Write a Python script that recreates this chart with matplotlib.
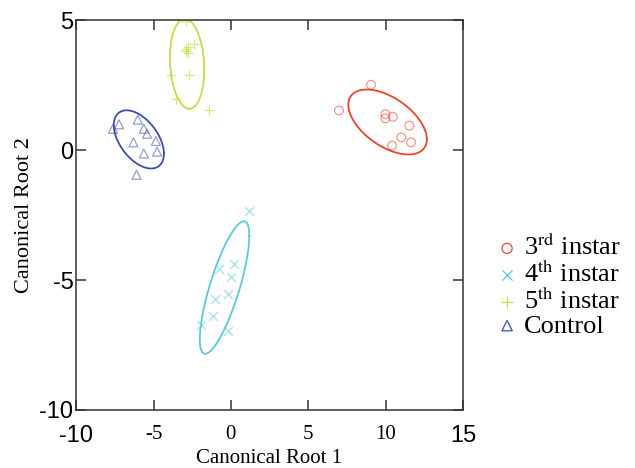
import numpy as np
from matplotlib import pyplot as plt

plt.rcParams['mathtext.fontset'] = 'stix'

# canonical scores
third_x = [9.06, 6.99, 9.99, 9.99, 10.47, 11.54, 11.02, 11.65, 10.42]
third_y = [2.51, 1.52, 1.38, 1.22, 1.28, 0.94, 0.49, 0.30, 0.17]

fourth_x = [1.17, 0.21, -0.78, -0.02, -0.21, -1.04, -1.15, -1.92, -0.17]
fourth_y = [-2.33, -4.37, -4.57, -4.90, -5.52, -5.72, -6.37, -6.72, -6.95]

fifth_x = [-2.93, -2.38, -2.76, -2.87, -2.80, -2.91, -2.70, -3.90, -3.58, -1.40]
fifth_y = [4.95, 4.07, 3.97, 3.80, 3.74, 3.87, 2.89, 2.89, 1.97, 1.56]

control_x = [-7.62, -7.23, -6.02, -5.63, -5.42, -6.30, -4.85, -4.77, -5.63, -6.10]
control_y = [0.82, 0.99, 1.17, 0.82, 0.63, 0.30, 0.35, -0.06, -0.13, -0.95]

# ellipses: centre x, centre y, half range x, half range y, correlation
ell_third = (10.13, 1.08, 2.54, 1.25, -0.53)
ell_fourth = (-0.41, -5.29, 1.60, 2.55, 0.78)
ell_fifth = (-2.83, 3.32, 1.11, 1.73, -0.13)
ell_control = (-5.95, 0.41, 1.62, 1.12, -0.49)

c_red = '#e8452c'
c_cyan = '#5cc9d8'
c_green = '#c8da4a'
c_blue = '#3b4fa6'


def ellipse(cx, cy, sx, sy, r):
    t = np.linspace(0, 2 * np.pi, 300)
    ex = cx + sx * np.cos(t)
    ey = cy + sy * (r * np.cos(t) + np.sqrt(1 - r * r) * np.sin(t))
    return ex, ey


fig = plt.figure(figsize=(6.35, 4.68), dpi=100)
ax = fig.add_axes([0.12, 0.124, 0.609, 0.833])

ax.scatter(third_x, third_y, marker='o', s=40, facecolors='none',
           edgecolors=c_red, alpha=0.55, linewidths=0.9, label='3$^{\\rm rd}$ instar')
ax.scatter(fourth_x, fourth_y, marker='x', s=40, color=c_cyan,
           alpha=0.55, linewidths=0.9, label='4$^{\\rm th}$ instar')
ax.scatter(fifth_x, fifth_y, marker='+', s=55, color=c_green,
           alpha=0.7, linewidths=0.9, label='5$^{\\rm th}$ instar')
ax.scatter(control_x, control_y, marker='^', s=42, facecolors='none',
           edgecolors=c_blue, alpha=0.55, linewidths=0.9, label='Control')

for e, c in [(ell_third, c_red), (ell_fourth, c_cyan),
             (ell_fifth, c_green), (ell_control, c_blue)]:
    ex, ey = ellipse(*e)
    ax.plot(ex, ey, color=c, lw=1.3)

ax.set_xlim(-10, 15)
ax.set_ylim(-10, 5)
ax.set_xticks([-10, -5, 0, 5, 10, 15])
ax.set_yticks([-10, -5, 0, 5])
ax.tick_params(direction='in', length=7, width=1.1, color='#333333',
               top=True, right=True)
ax.tick_params(axis='x', pad=11)
ax.tick_params(axis='y', pad=2)
ax.set_xticklabels(['-10', '-5', '0', '5', '10', '15'])
ax.set_yticklabels(['-10', '-5', '0', '5'])
for i, lab in enumerate(ax.get_xticklabels()):
    if i in (0, 5):
        lab.set_fontfamily('Liberation Sans')
        lab.set_fontsize(17)
    else:
        lab.set_fontfamily('Liberation Serif')
        lab.set_fontsize(15)
for lab in ax.get_yticklabels():
    lab.set_fontfamily('Liberation Sans')
    lab.set_fontsize(17)
for sp in ax.spines.values():
    sp.set_color('#333333')
    sp.set_linewidth(1.1)

ax.set_xlabel('Canonical Root 1', fontfamily='Liberation Serif', fontsize=15, labelpad=1)
ax.set_ylabel('Canonical Root 2', fontfamily='Liberation Serif', fontsize=16, labelpad=4)

leg = fig.legend(loc='center left', bbox_to_anchor=(0.757, 0.39), frameon=False,
                 prop={'family': 'Liberation Serif', 'size': 19}, handletextpad=0.15,
                 labelspacing=0.0, handlelength=1.0, borderpad=0.0, markerscale=1.15)
for h in leg.legend_handles:
    h.set_alpha(1)

fig.savefig('out.png', dpi=100)
